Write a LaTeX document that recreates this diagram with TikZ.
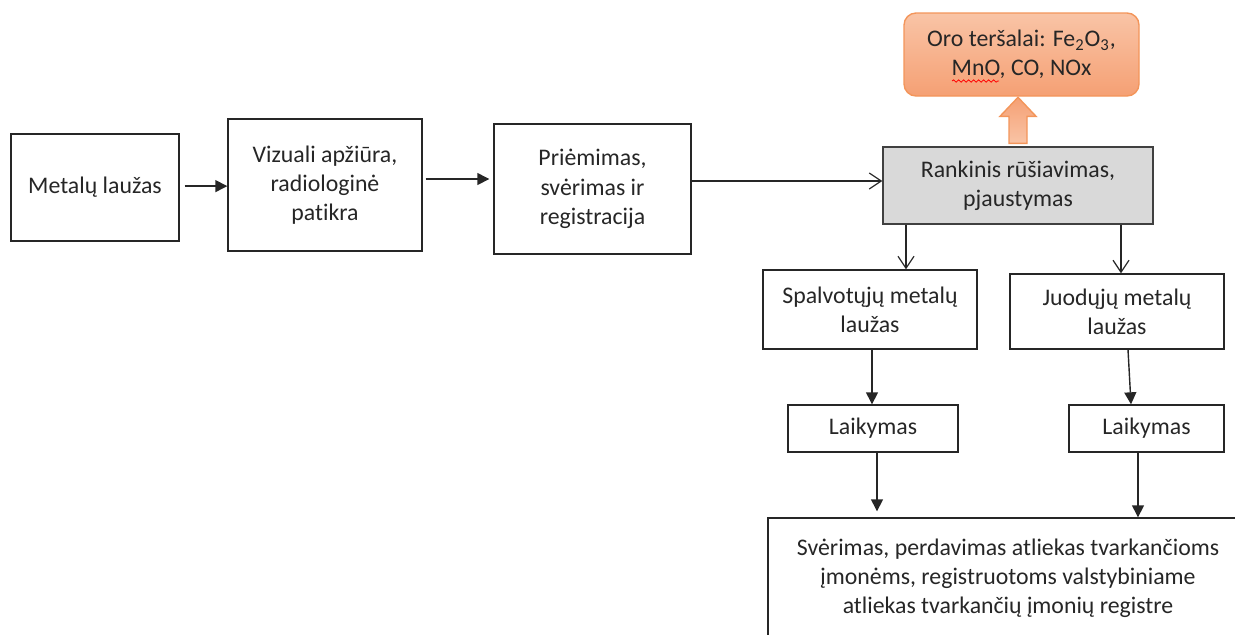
\documentclass[tikz,border=0pt]{standalone}
\usepackage{fontspec}
\setmainfont{Carlito}[Ligatures=NoCommon]
\usetikzlibrary{arrows.meta,decorations.pathmorphing}
\definecolor{boxline}{HTML}{262626}
\definecolor{sortgray}{HTML}{D9D9D9}
\definecolor{sortline}{HTML}{404040}
\definecolor{airtop}{HTML}{F9C4A6}
\definecolor{airbottom}{HTML}{F5A074}
\definecolor{airline}{HTML}{F3955A}
\begin{document}
\begin{tikzpicture}[x=0.5pt,y=-0.5pt,
  box/.style={draw=boxline, line width=0.7pt, align=center, inner sep=0pt, text=boxline, font=\fontsize{11.9}{14.6}\selectfont},
  graybox/.style={box, draw=sortline, fill=sortgray},
  airbox/.style={box, draw=airline, rounded corners=6pt, top color=airtop, bottom color=airbottom},
  fillarrow/.style={draw=boxline, line width=0.7pt, -{Triangle[length=6pt,width=6pt]}},
  openarrow/.style={draw=boxline, line width=0.6pt, -{Straight Barb[length=6pt,width=8pt]}},
  blockarrow/.style={draw=airline, line width=0.7pt, top color=airbottom, bottom color=airtop}]
\clip (0,0) rectangle (1235,634);
\node [box, minimum width=84pt, minimum height=53.5pt] (scrap) at (95,187.5) {Metalų laužas};
\node [box, minimum width=97pt, minimum height=66pt] (check) at (325,185) {Vizuali apžiūra,\\radiologinė\\patikra};
\node [box, minimum width=98.5pt, minimum height=65pt] (accept) at (592.5,189) {Priėmimas,\\svėrimas ir\\registracija};
\node [graybox, minimum width=135pt, minimum height=38.5pt] (sort) at (1018,185.5) {Rankinis rūšiavimas,\\pjaustymas};
\node [airbox, minimum width=117.5pt, minimum height=41.5pt] (air) at (1021.5,54.5) {Oro teršalai: Fe\textsubscript{2}O\textsubscript{3},\\MnO, CO, NOx};
\node [box, minimum width=107pt, minimum height=39.5pt] (color) at (870,309.5) {Spalvotųjų metalų\\laužas};
\node [box, minimum width=107pt, minimum height=37.5pt] (black) at (1117,311.5) {Juodųjų metalų\\laužas};
\node [box, minimum width=85pt, minimum height=23.5pt] (keepa) at (873,428.5) {Laikymas};
\node [box, minimum width=77.5pt, minimum height=23.5pt] (keepb) at (1146.5,428.5) {Laikymas};
\node [box, minimum width=240pt, minimum height=60pt] (final) at (1008,578) {Svėrimas, perdavimas atliekas tvarkančioms\\įmonėms, registruotoms valstybiniame\\atliekas tvarkančių įmonių registre};
\draw [red, line width=0.4pt, decorate, decoration={snake, amplitude=0.6pt, segment length=2.5pt}] (952,81) -- (999,81);
\draw [blockarrow] ([yshift=1.5pt]sort.north) ++(-9,0) -- ++(0,-27) -- ++(-9,0) -- ++(18,-19) -- ++(18,19) -- ++(-9,0) -- ++(0,27) -- cycle;
\draw [fillarrow, shorten <=2.5pt] ([yshift=0.7pt]scrap.east) -- ([yshift=0.7pt]scrap.east -| check.west);
\draw [fillarrow, shorten <=1.5pt, shorten >=2pt] ([yshift=3pt]check.east) -- ([yshift=3pt]check.east -| accept.west);
\draw [openarrow] ([yshift=4pt]accept.east) -- ([yshift=4pt]accept.east -| sort.west);
\draw [openarrow] ([xshift=-56pt]sort.south) -- ([xshift=-56pt]sort.south |- color.north);
\draw [openarrow] ([xshift=51.5pt]sort.south) -- ([xshift=51.5pt]sort.south |- black.north);
\draw [fillarrow] ([xshift=1pt]color.south) -- ([xshift=1pt]color.south |- keepa.north);
\draw [fillarrow] ([xshift=5.5pt]black.south) -- ([xshift=-7.75pt]keepb.north);
\draw [fillarrow, shorten >=3pt] ([xshift=2pt]keepa.south) -- ([xshift=2pt]keepa.south |- final.north);
\draw [fillarrow] ([xshift=-4.25pt]keepb.south) -- ([xshift=-4.25pt]keepb.south |- final.north);
\end{tikzpicture}
\end{document}
